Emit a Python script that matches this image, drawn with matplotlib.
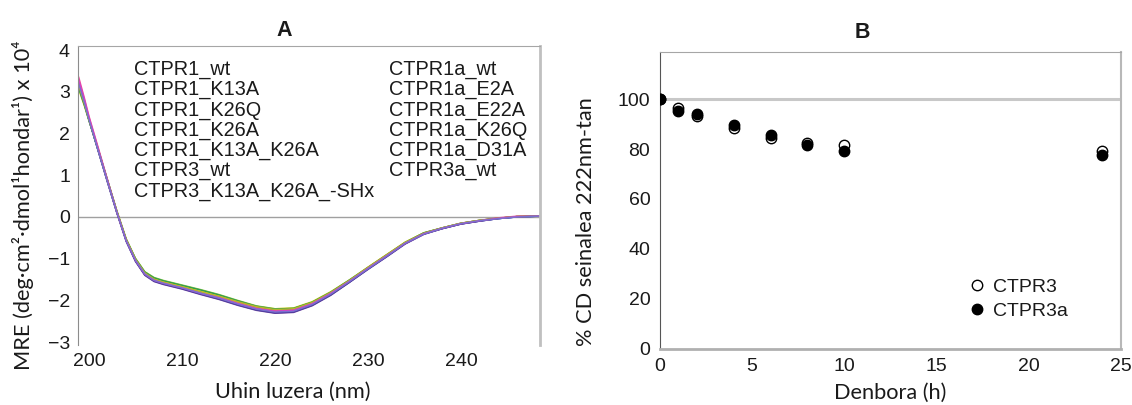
import matplotlib
matplotlib.use("Agg")
import matplotlib.pyplot as plt

plt.rcParams["font.family"] = ["Liberation Sans", "DejaVu Sans"]

# ---------------- data ----------------
wavelength = [198.9, 199.5, 200, 201, 202, 203, 204, 205, 206, 207, 208, 210, 212, 214,
              216, 218, 220, 222, 224, 226, 228, 230, 232, 234, 236, 238, 240, 242,
              244, 246, 248.5]

ctpr1_wt = [3.15, 2.72, 2.32, 1.58, 0.84, 0.10, -0.57, -1.05, -1.38, -1.53, -1.60, -1.71, -1.84, -1.95, -2.09, -2.21, -2.29, -2.27, -2.11, -1.86, -1.56, -1.25, -0.95, -0.64, -0.41, -0.28, -0.17, -0.10, -0.04, 0.00, 0.02]
ctpr1_k13a = [3.22, 2.78, 2.36, 1.62, 0.86, 0.12, -0.55, -1.02, -1.35, -1.50, -1.57, -1.68, -1.80, -1.91, -2.04, -2.17, -2.23, -2.21, -2.06, -1.82, -1.53, -1.22, -0.92, -0.62, -0.39, -0.27, -0.16, -0.09, -0.03, 0.01, 0.02]
ctpr1_k26q = [3.05, 2.66, 2.30, 1.60, 0.88, 0.15, -0.52, -1.00, -1.32, -1.47, -1.54, -1.65, -1.77, -1.88, -2.02, -2.14, -2.20, -2.18, -2.03, -1.79, -1.51, -1.20, -0.90, -0.60, -0.38, -0.26, -0.15, -0.08, -0.03, 0.01, 0.02]
ctpr1_k26a = [3.10, 2.70, 2.33, 1.61, 0.87, 0.14, -0.53, -0.99, -1.31, -1.45, -1.52, -1.63, -1.74, -1.86, -2.00, -2.13, -2.20, -2.19, -2.05, -1.81, -1.52, -1.21, -0.91, -0.61, -0.38, -0.26, -0.15, -0.08, -0.03, 0.01, 0.02]
ctpr1_k13a_k26a = [3.18, 2.74, 2.33, 1.57, 0.82, 0.09, -0.59, -1.07, -1.40, -1.55, -1.62, -1.73, -1.86, -1.98, -2.12, -2.24, -2.31, -2.29, -2.13, -1.88, -1.57, -1.26, -0.96, -0.65, -0.42, -0.28, -0.17, -0.10, -0.04, 0.00, 0.02]
ctpr3_wt = [3.20, 2.76, 2.35, 1.60, 0.85, 0.11, -0.56, -1.03, -1.36, -1.51, -1.58, -1.69, -1.81, -1.92, -2.06, -2.18, -2.24, -2.22, -2.07, -1.83, -1.54, -1.23, -0.93, -0.62, -0.40, -0.27, -0.16, -0.09, -0.03, 0.01, 0.02]
ctpr3_k13a_k26a_shx = [3.35, 2.86, 2.42, 1.66, 0.89, 0.13, -0.55, -1.03, -1.36, -1.51, -1.58, -1.69, -1.82, -1.93, -2.07, -2.19, -2.25, -2.22, -2.07, -1.82, -1.53, -1.22, -0.92, -0.62, -0.39, -0.26, -0.15, -0.08, -0.02, 0.02, 0.03]
ctpr1a_wt = [3.12, 2.70, 2.31, 1.59, 0.85, 0.12, -0.55, -1.03, -1.36, -1.51, -1.59, -1.70, -1.82, -1.94, -2.08, -2.20, -2.27, -2.25, -2.09, -1.84, -1.55, -1.24, -0.94, -0.63, -0.40, -0.27, -0.16, -0.09, -0.04, 0.00, 0.02]
ctpr1a_e2a = [3.08, 2.68, 2.31, 1.61, 0.88, 0.14, -0.53, -1.00, -1.32, -1.46, -1.53, -1.64, -1.75, -1.87, -2.01, -2.14, -2.21, -2.19, -2.04, -1.80, -1.51, -1.21, -0.91, -0.61, -0.38, -0.26, -0.15, -0.08, -0.03, 0.01, 0.02]
ctpr1a_e22a = [3.16, 2.73, 2.33, 1.58, 0.83, 0.10, -0.58, -1.06, -1.39, -1.54, -1.61, -1.72, -1.85, -1.97, -2.11, -2.23, -2.30, -2.28, -2.12, -1.87, -1.57, -1.25, -0.95, -0.64, -0.41, -0.28, -0.17, -0.10, -0.04, 0.00, 0.02]
ctpr1a_k26q = [3.14, 2.72, 2.33, 1.61, 0.86, 0.13, -0.54, -1.01, -1.34, -1.49, -1.56, -1.67, -1.79, -1.90, -2.03, -2.15, -2.22, -2.20, -2.05, -1.81, -1.52, -1.21, -0.91, -0.61, -0.39, -0.26, -0.15, -0.08, -0.03, 0.01, 0.02]
ctpr1a_d31a = [3.28, 2.82, 2.39, 1.63, 0.87, 0.12, -0.56, -1.04, -1.37, -1.52, -1.59, -1.70, -1.83, -1.94, -2.08, -2.20, -2.26, -2.24, -2.08, -1.83, -1.54, -1.23, -0.93, -0.63, -0.40, -0.27, -0.16, -0.09, -0.03, 0.01, 0.02]
ctpr3a_wt = [3.19, 2.75, 2.34, 1.59, 0.84, 0.11, -0.57, -1.04, -1.37, -1.52, -1.59, -1.70, -1.83, -1.95, -2.09, -2.21, -2.28, -2.26, -2.10, -1.85, -1.55, -1.24, -0.94, -0.63, -0.41, -0.27, -0.16, -0.09, -0.04, 0.00, 0.02]

spectra_names = ["CTPR1_wt", "CTPR1_K13A", "CTPR1_K26Q", "CTPR1_K26A", "CTPR1_K13A_K26A",
                 "CTPR3_wt", "CTPR3_K13A_K26A_-SHx",
                 "CTPR1a_wt", "CTPR1a_E2A", "CTPR1a_E22A", "CTPR1a_K26Q", "CTPR1a_D31A",
                 "CTPR3a_wt"]
spectra = [ctpr1_wt, ctpr1_k13a, ctpr1_k26q, ctpr1_k26a, ctpr1_k13a_k26a,
           ctpr3_wt, ctpr3_k13a_k26a_shx,
           ctpr1a_wt, ctpr1a_e2a, ctpr1a_e22a, ctpr1a_k26q, ctpr1a_d31a, ctpr3a_wt]
spectra_colors = ["#2E4BC6", "#E03A2F", "#EFD81C", "#8DC63F", "#6B3FA0",
                  "#F39A2B", "#E94B9A", "#4AA3DF", "#2E9E4F", "#4B3F9E",
                  "#B5B52E", "#D63FC8", "#7A6FD0"]

hours = [0, 1, 2, 4, 6, 8, 10, 24]
ctpr3_signal = [100, 96.4, 93.3, 88.4, 84.4, 82.6, 81.7, 79.4]
ctpr3a_signal = [100, 95.4, 94.1, 89.6, 85.7, 81.5, 79.3, 77.5]

xticks_a = [200, 210, 220, 230, 240]
yticks_a = [-3, -2, -1, 0, 1, 2, 3, 4]
xticks_b = [0, 5, 10, 15, 20, 25]
yticks_b = [0, 20, 40, 60, 80, 100]

# ---------------- figure ----------------
W, H = 1132, 405
fig = plt.figure(figsize=(W / 100, H / 100), dpi=100)

LABEL_FONT = ["Lato", "DejaVu Sans"]
TXT = "#1a1a1a"
LABEL_SIZE = 15.7


def px_axes(left, top, right, bottom):
    return fig.add_axes([left / W, 1 - bottom / H, (right - left) / W, (bottom - top) / H])


# ---- panel A: CD spectra ----
axA = px_axes(78.3, 46, 540, 345)
for name, vals, col in zip(spectra_names, spectra, spectra_colors):
    axA.plot(wavelength, vals, color=col, lw=1.0, label=name)
axA.axhline(0, color="#a0a0a0", lw=1.0, zorder=0.5)
axA.set_xlim(198.85, 248.5)
axA.set_ylim(-3.07, 4.1)
axA.set_xticks(xticks_a)
axA.set_yticks(yticks_a)
axA.set_yticklabels(["\u22123", "\u22122", "\u22121", "0", "1", "2", "3", "4"])
axA.tick_params(length=0, labelsize=14, colors=TXT, pad=6)
axA.spines["left"].set_color("#8c8c8c")
axA.spines["top"].set_color("#a6a6a6")
axA.spines["right"].set_color("#c0c0c0")
axA.spines["right"].set_linewidth(2)
axA.spines["bottom"].set_visible(False)

legA = axA.legend(ncol=2, loc="upper left", bbox_to_anchor=((134 - 78.3) / 461.7, (345 - 60) / 299),
                  frameon=False, handlelength=0, handletextpad=0, borderpad=0,
                  borderaxespad=0, labelspacing=0.05, columnspacing=0.75,
                  prop={"size": 14.3})
for h in legA.legend_handles:
    h.set_visible(False)
for t in legA.get_texts():
    t.set_color(TXT)

axA.set_xlabel("Uhin luzera (nm)", fontsize=LABEL_SIZE, family=LABEL_FONT, color=TXT)
axA.xaxis.set_label_coords((293 - 78.3) / 461.7, (345 - 392) / 299)
axA.xaxis.label.set_va("center")
axA.set_ylabel("MRE (deg\u00b7cm\u00b2\u00b7dmol\u00b9hondar\u00b9) x 10\u2074", fontsize=LABEL_SIZE,
               family=LABEL_FONT, color=TXT)
axA.yaxis.set_label_coords((23 - 78.3) / 461.7, (345 - 205) / 299)
axA.yaxis.label.set_va("center")
fig.text(284 / W, 1 - 30 / H, "A", ha="center", va="center", fontsize=15.5,
         fontweight="bold", color=TXT)

# ---- panel B: signal vs time ----
axB = px_axes(660, 51.7, 1120.7, 348.7)
axB.axhline(100, color="#c8c8c8", lw=2.2, zorder=0.5)
axB.plot(hours, ctpr3_signal, ls="none", marker="o", ms=7.5, mfc="white", mec="black",
         mew=1.0, label="CTPR3", zorder=3)
axB.plot(hours, ctpr3a_signal, ls="none", marker="o", ms=7.5, mfc="black", mec="black",
         mew=1.0, label="CTPR3a", zorder=4)
axB.set_xlim(0, 25)
axB.set_ylim(0, 119)
axB.set_xticks(xticks_b)
axB.set_yticks(yticks_b)
axB.tick_params(length=0, labelsize=14, colors=TXT, pad=7)
axB.spines["left"].set_color("#555555")
axB.spines["top"].set_color("#a6a6a6")
axB.spines["right"].set_color("#b8b8b8")
axB.spines["right"].set_linewidth(1.5)
axB.spines["bottom"].set_color("#b0b0b0")
axB.spines["bottom"].set_linewidth(2)

legB = axB.legend(loc="upper left", bbox_to_anchor=((968 - 660) / 460.7, (348.7 - 278) / 297),
                  frameon=False, handlelength=0.9, handletextpad=0.4, borderpad=0,
                  borderaxespad=0, labelspacing=0.35, prop={"size": 14})
for t in legB.get_texts():
    t.set_color(TXT)

axB.set_xlabel("Denbora (h)", fontsize=LABEL_SIZE, family=LABEL_FONT, color=TXT)
axB.xaxis.set_label_coords((890 - 660) / 460.7, (348.7 - 393) / 297)
axB.xaxis.label.set_va("center")
axB.set_ylabel("% CD seinalea 222nm-tan", fontsize=LABEL_SIZE, family=LABEL_FONT, color=TXT)
axB.yaxis.set_label_coords((586 - 660) / 460.7, (348.7 - 222) / 297)
axB.yaxis.label.set_va("center")
fig.text(862 / W, 1 - 33 / H, "B", ha="center", va="center", fontsize=15.5,
         fontweight="bold", color=TXT)

fig.savefig("out.png", dpi=100)
